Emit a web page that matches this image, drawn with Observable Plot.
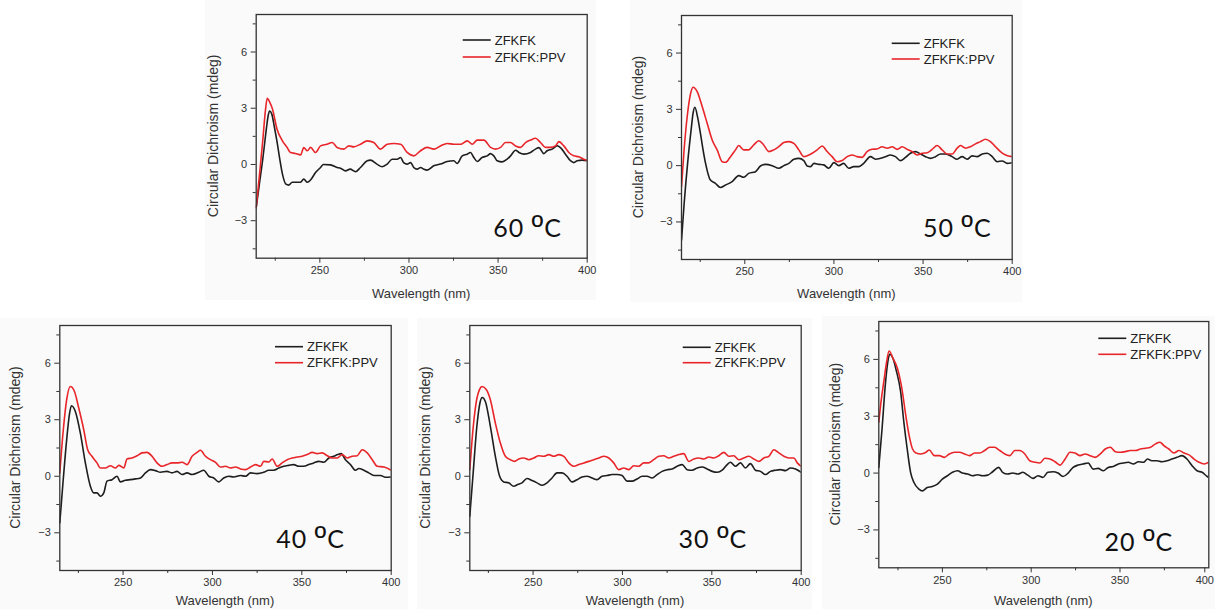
<!DOCTYPE html>
<html><head><meta charset="utf-8">
<script src="https://cdn.jsdelivr.net/npm/d3@7"></script>
<script src="https://cdn.jsdelivr.net/npm/@observablehq/plot@0.6"></script>
<style>
html,body{margin:0;padding:0;background:#fff;}
#wrap{position:relative;width:1215px;height:609px;overflow:hidden;}
.panel{position:absolute;}
</style></head><body><div id="wrap"></div>
<script>
// ---------- data ----------
const seriesNames = ["ZFKFK", "ZFKFK:PPV"];
const temps = ["60 ºC", "50 ºC", "40 ºC", "30 ºC", "20 ºC"];
const xLabel = "Wavelength (nm)";
const yLabel = "Circular Dichroism (mdeg)";
const xTicks = [250, 300, 350, 400];
const xMinor = [225, 275, 325, 375];
const yTicks = [-3, 0, 3, 6];
const yMinor = [-4.5, -1.5, 1.5, 4.5, 7.5];

const zfkfk60 = [[214.3,-2.3],[216,-1.1],[218,0.3],[220,1.9],[221,2.6],[221.8,2.85],[223,2.7],[224.5,2.0],[226,1.2],[227.5,0.3],[229,-0.5],[231,-1.05],[232.5,-1.1],[234.5,-0.95],[237,-0.95],[239,-0.95],[241,-0.78],[243,-0.95],[245,-0.8],[247.6,-0.43],[250.4,-0.16],[252,0],[256,-0.02],[259.7,-0.16],[261.6,-0.2],[264.4,-0.34],[267,-0.25],[270,-0.39],[272.8,-0.16],[276.6,0.2],[278.4,0.23],[282,0.02],[285,-0.12],[287.8,0.02],[290.6,0.28],[293.4,0.28],[295.3,0.37],[297,0.1],[299,0.02],[300.9,0.1],[302.7,-0.16],[304.6,-0.25],[306.5,-0.16],[308.3,-0.25],[310.2,-0.3],[313.9,-0.07],[317.7,0.02],[321.4,0.16],[325.2,0.2],[327,0.05],[329.9,0.46],[332.7,0.55],[334.5,0.64],[336.4,0.37],[338.3,0.16],[341,0.37],[343.9,0.46],[345.8,0.58],[347.6,0.46],[349.5,0.2],[352.3,0.14],[355.1,0.28],[357,0.46],[359.8,0.76],[361.7,0.64],[364.5,0.55],[368.2,0.64],[371,0.82],[372.9,0.9],[375.7,0.58],[377.5,0.73],[380.3,0.82],[383.2,1.0],[385,0.9],[387.8,0.55],[390.6,0.2],[392.5,0.1],[394.4,0.2],[397.2,0.23],[400,0.2]];
const ppv60 = [[214.3,-2.3],[216,-0.7],[218,1.3],[219.5,2.9],[220.5,3.53],[222,3.3],[223.3,3.0],[226,1.88],[229,1.26],[231.7,0.9],[233.5,0.64],[236.3,0.59],[239.2,0.51],[241,0.9],[243,0.73],[244.8,0.91],[247.6,0.64],[250.4,0.99],[254,1.08],[256.9,1.17],[259.7,0.91],[263.5,0.82],[266.3,0.99],[269,0.94],[272.8,1.08],[276.6,1.26],[280.3,1.17],[284,0.82],[287.8,1.08],[291.5,1.12],[295.3,1.08],[299,0.64],[302.7,0.46],[306.5,0.73],[310.2,0.91],[314,0.82],[317.7,0.99],[321.4,1.12],[325.2,1.08],[328.9,1.08],[332.7,1.26],[335.5,1.08],[338.3,1.3],[342,1.3],[345.8,0.91],[348.6,0.82],[351.4,0.91],[354.2,1.17],[357,1.17],[359.8,0.99],[362.6,0.91],[365.4,1.17],[368.2,1.3],[371,1.4],[373.8,1.17],[376.6,0.91],[379.4,0.91],[382.2,0.99],[384.1,1.22],[386.9,0.99],[389.7,0.64],[392.5,0.46],[395.3,0.41],[398.1,0.28],[400,0.23]];

const zfkfk50 = [[214.5,-3.97],[216,-2.0],[218,0.2],[220,2.0],[221,2.8],[222,3.11],[223.5,2.6],[225.1,1.73],[226.5,0.9],[228,0.12],[230.7,-0.77],[233.5,-0.94],[236.3,-1.16],[239.2,-1.03],[242.9,-0.85],[246.6,-0.53],[249.4,-0.62],[252.2,-0.41],[256,-0.32],[258.8,-0.02],[261.6,0.07],[265.4,0],[269.1,-0.14],[271.9,0],[274.7,0.12],[277.5,0.34],[280.3,0.39],[283.1,0.27],[285,-0.02],[286.9,-0.05],[288.8,0.12],[291.6,0.07],[294.3,0.04],[297.1,-0.14],[300,0.16],[302.7,0],[305.5,0.12],[308.3,-0.14],[311.1,-0.05],[314,-0.05],[316.7,0.12],[320.5,0.48],[323.3,0.34],[326.1,0.39],[328.9,0.48],[331.7,0.57],[334.5,0.48],[337.3,0.27],[340.1,0.44],[342.9,0.66],[345.8,0.75],[348.6,0.62],[351.4,0.48],[354.2,0.39],[357,0.48],[359.8,0.62],[362.6,0.62],[366.3,0.48],[369.1,0.34],[371.9,0.48],[374.7,0.34],[377.5,0.52],[380.3,0.48],[383.2,0.62],[386,0.66],[388.8,0.48],[391.6,0.21],[394.4,0.25],[397.2,0.12],[400,0.16]];
const ppv50 = [[214.5,-1.12],[216,0.9],[217.7,2.62],[219.5,3.8],[221,4.18],[223.3,3.95],[226.1,3.15],[228.9,2.26],[231.7,1.37],[234.5,0.84],[237.3,0.21],[239.2,0.18],[242,0.48],[244.8,0.84],[246.6,1.07],[249.4,0.84],[252.2,0.84],[255,1.1],[257.9,1.33],[260.6,1.1],[263.5,0.75],[266.3,0.84],[269.1,1.01],[271.9,1.23],[274.7,1.28],[277.5,1.19],[280.3,0.84],[283.1,0.48],[285,0.53],[287.8,0.66],[290.6,0.84],[293.4,1.05],[296.2,0.75],[299,0.48],[301.8,0.21],[304.6,0.27],[307.4,0.48],[310.2,0.57],[313,0.48],[315.8,0.44],[318.6,0.75],[321.4,0.87],[324.2,0.89],[327,1.01],[329.9,0.93],[332.7,1.01],[335.5,0.87],[338.3,1.01],[341,0.87],[343.9,0.75],[346.7,0.57],[349.5,0.66],[352.3,0.69],[355.1,0.87],[357.9,1.07],[360.7,0.84],[363.5,0.62],[366.3,0.62],[369.1,0.93],[371,1.07],[373.8,0.93],[376.6,1.01],[379.4,1.16],[382.2,1.28],[385,1.41],[387.8,1.28],[390.6,1.01],[393.4,0.75],[396.3,0.57],[400,0.48]];

const zfkfk40 = [[214.6,-2.47],[216.5,-0.2],[218.5,2.0],[220,3.3],[221.1,3.74],[223.3,3.44],[226.1,2.29],[228.9,0.71],[231.7,-0.53],[233.6,-0.88],[235.4,-0.88],[237.3,-1.06],[239.2,-0.88],[241,-0.26],[243.8,-0.18],[246.6,0],[248.5,-0.3],[251.3,-0.21],[254.1,-0.18],[256.9,-0.14],[259.7,-0.09],[262.5,0.18],[265.3,0.35],[268.1,0.3],[270.9,0.21],[274.6,0.26],[277.4,0.18],[280.2,0.26],[283,0.09],[285.8,0.18],[288.6,0.09],[292.4,0.21],[295.1,0.32],[298,0],[300.7,-0.09],[303.5,-0.3],[306.3,-0.09],[309.1,0],[311.9,-0.04],[315.7,0.04],[318.5,0],[321.3,0.18],[325,0.14],[328.7,0.21],[331.5,0.32],[334.3,0.32],[337.1,0.44],[339.9,0.53],[342.7,0.58],[345.5,0.62],[348.3,0.53],[351.1,0.53],[353.9,0.62],[356.7,0.71],[359.5,0.79],[362.3,0.74],[365.1,0.97],[367.9,1.06],[370.1,1.15],[372,1.2],[374.4,0.88],[377.2,0.62],[380,0.32],[381.9,0.41],[384.7,0.32],[387.5,0.18],[390.3,0.04],[394,0.04],[396.8,-0.05],[400,-0.04]];
const ppv40 = [[214.6,0.18],[216.5,2.4],[218.5,4.1],[220.5,4.76],[222.8,4.5],[225.2,3.62],[228,2.47],[230.2,1.41],[232.6,1.06],[235.4,0.71],[237.3,0.44],[240.1,0.44],[242.9,0.56],[245.7,0.44],[247.6,0.58],[250.4,0.44],[252.2,0.92],[255,0.97],[257.8,1.09],[260.6,1.24],[263.4,1.27],[266.2,1.06],[269,0.71],[271.8,0.53],[274.6,0.62],[277.4,0.71],[280.2,0.71],[283,0.74],[285.8,0.62],[288.6,1.06],[291.4,1.27],[293.3,1.38],[296.1,1.06],[298.9,0.88],[301.7,0.74],[304.5,0.49],[307.3,0.53],[310.1,0.44],[312.9,0.49],[315.7,0.39],[318.5,0.35],[321.3,0.49],[324.1,0.62],[326.9,0.53],[328.7,0.79],[331.5,0.76],[333.4,0.92],[336.2,0.53],[339,0.71],[341.8,0.88],[344.6,0.97],[347.4,1.02],[350.2,1.06],[353,1.15],[355.8,1.27],[358.6,1.2],[361.4,1.24],[364.2,1.09],[367,0.97],[369.8,0.97],[372.6,1.15],[375.4,0.97],[378.2,1.06],[381,1.09],[383.8,1.41],[386.6,1.24],[389.4,0.88],[392.2,0.53],[396,0.49],[400,0.32]];

const zfkfk30 = [[214.6,-2.12],[216.5,0.2],[218.5,2.6],[220.3,3.9],[221.5,4.18],[223.3,3.97],[226.1,2.65],[228.9,1.06],[231.3,0],[233.6,-0.3],[236.3,-0.35],[239.2,-0.53],[241.4,-0.44],[243.8,-0.35],[246.6,-0.12],[249.4,-0.23],[252.2,-0.35],[255,-0.48],[257.8,-0.35],[260.6,-0.09],[263.4,0.18],[266.2,0.18],[269,0],[271.8,-0.3],[274.6,-0.18],[277.4,-0.04],[280.2,0],[283,-0.09],[285.8,-0.18],[288.6,0],[291.4,0.04],[294.2,0.09],[297,0.09],[299.8,0.04],[302.6,-0.26],[305.4,-0.26],[308.2,-0.14],[311,0],[313.8,0],[316.6,-0.09],[319.4,0.09],[322.2,0.26],[325,0.35],[327.8,0.39],[330.6,0.53],[333.4,0.62],[336.2,0.35],[339,0.32],[341.8,0.44],[344.6,0.49],[347.4,0.39],[350.2,0.26],[353,0.21],[355.8,0.32],[358.6,0.62],[360.4,0.74],[363.2,0.53],[366,0.71],[368.8,0.44],[371.6,0.67],[374.4,0.32],[377.2,0.26],[380,0.09],[382.8,0.26],[385.6,0.32],[388.4,0.35],[391.2,0.3],[394,0.44],[396.8,0.39],[400,0.21]];
const ppv30 = [[214.6,0.35],[216.5,2.6],[218.5,4.1],[220,4.6],[221.5,4.76],[223.9,4.59],[226.1,4.06],[228.9,2.82],[231.7,1.76],[234.5,1.06],[237.3,0.88],[239.6,0.79],[242,0.92],[244.8,0.97],[247.6,0.88],[250.4,0.97],[253.2,1.09],[256,1.06],[258.8,1.15],[261.6,1.06],[264.4,1.15],[267.2,1.06],[270,0.71],[272.8,0.53],[275.6,0.62],[278.4,0.71],[281.2,0.79],[284,0.88],[286.8,0.97],[289.6,1.06],[292.4,0.97],[295.1,0.71],[298,0.35],[300.7,0.44],[303.5,0.35],[306.3,0.56],[309.1,0.53],[311.9,0.71],[314.7,0.71],[317.5,0.88],[320.3,1.06],[323.1,1.09],[325.9,0.97],[328.7,1.06],[331.5,1.15],[334.3,1.2],[337.1,0.79],[339.9,0.92],[342.7,0.97],[345.5,0.92],[348.3,1.02],[351.1,0.97],[353.9,1.09],[356.7,1.27],[359.5,1.06],[362.3,1.09],[365.1,0.88],[367.9,0.97],[370.7,1.06],[373.5,0.92],[376.3,0.79],[379.1,0.97],[381.9,1.06],[384.7,1.41],[387.5,1.24],[390.3,1.06],[393.1,0.97],[395.9,0.97],[397.8,0.71],[400,0.53]];

const zfkfk20 = [[214.2,0.3],[216,2.3],[218,4.8],[219.5,6.0],[220.3,6.27],[222.2,6.05],[224,5.43],[226.5,4.28],[228.3,2.69],[230.2,1.27],[232.1,0.04],[234,-0.5],[236.8,-0.85],[238.7,-0.94],[241.5,-0.76],[244.3,-0.71],[247.2,-0.58],[250,-0.32],[252.8,-0.14],[255.7,0.04],[258.5,0.12],[261.3,0],[264.2,-0.05],[267,-0.14],[269.8,-0.09],[272.6,-0.14],[275.5,-0.11],[278.3,0.07],[281.7,0.3],[283.9,0.04],[286.8,-0.05],[289.6,0],[292.5,-0.05],[295.3,0.04],[298.1,-0.11],[301,-0.28],[303.8,-0.14],[306.6,-0.23],[309.4,0.04],[312.3,0.07],[315.1,0],[317.9,-0.18],[320.8,0],[323.6,0.3],[326.4,0.42],[329.2,0.48],[332.1,0.53],[334.9,0.21],[337.7,0.25],[340.6,0.12],[343.4,0.3],[346.2,0.35],[349.1,0.48],[351.9,0.53],[354.7,0.57],[357.5,0.48],[360.4,0.6],[363.2,0.57],[365.5,0.74],[367.9,0.65],[370.8,0.65],[373.6,0.6],[376.4,0.65],[379.2,0.74],[382.1,0.83],[384.9,0.92],[387.7,0.74],[390.6,0.39],[393.4,0.12],[396.2,0.04],[399.1,-0.18],[400,-0.23]];
const ppv20 = [[214.2,2.69],[215.5,3.8],[217,4.81],[218.5,5.8],[220,6.44],[222.2,6.05],[224.7,5.52],[227.2,4.46],[229.4,3.04],[231.3,1.98],[233.2,1.27],[235.1,1.06],[237.9,1.01],[240.8,1.1],[242.6,1.22],[245.5,0.92],[248.3,0.92],[251.1,0.83],[253.9,1.01],[256.8,1.1],[259.6,1.1],[262.5,1.01],[265.3,0.92],[268.1,1.06],[270.9,1.06],[273.8,1.19],[276.6,1.36],[279.4,1.36],[282.3,1.19],[285.1,1.01],[287.9,0.92],[290.8,1.19],[293.6,1.19],[296.4,1.01],[299.2,0.65],[302.1,0.57],[304.9,0.53],[307.7,0.78],[310.6,0.74],[313.4,0.6],[316.2,0.42],[319.1,0.74],[321.9,1.1],[324.7,1.06],[327.5,0.92],[330.4,1.01],[333.2,0.92],[336,0.83],[338.9,1.01],[341.7,1.27],[344.5,1.36],[347.4,1.13],[350.2,1.1],[353,1.13],[355.8,1.19],[358.7,1.19],[361.5,1.27],[364.3,1.31],[367.2,1.36],[370,1.54],[372.5,1.63],[374.7,1.45],[377.5,1.27],[380.4,1.06],[383.2,1.19],[386,1.06],[388.9,0.96],[391.7,0.74],[394.5,0.57],[397.4,0.48],[400,0.57]];

// ---------- layout (positions & styles, not data) ----------
const colors = ["#1e1e1e", "#e8262a"];
const panels = [
  {temp: temps[0], series: [zfkfk60, ppv60], box: [205, 0, 391, 300], frame: [255.7, 14, 586.7, 257.7], xmin: 214.3, yLab: 42.7, xLab: 35.3, tag: [24.7, 20.4], leg: [207, 26, 43], lastDx: 0},
  {temp: temps[1], series: [zfkfk50, ppv50], box: [630, 0, 392, 302], frame: [681, 15, 1011.7, 259], xmin: 214.5, yLab: 42.7, xLab: 34.3, tag: [20, 21.7], leg: [210.7, 28.3, 44], lastDx: 0},
  {temp: temps[2], series: [zfkfk40, ppv40], box: [0, 318, 408, 291], frame: [59.3, 325, 390.7, 570], xmin: 214.6, yLab: 44.3, xLab: 30, tag: [45.7, 21.7], leg: [215.7, 21.7, 37.7], lastDx: 0},
  {temp: temps[3], series: [zfkfk30, ppv30], box: [417, 318, 395, 291], frame: [469.3, 325, 800.7, 570], xmin: 214.6, yLab: 44.3, xLab: 30, tag: [53.4, 21.7], leg: [213.4, 22.3, 37.7], lastDx: 0},
  {temp: temps[4], series: [zfkfk20, ppv20], box: [822, 316, 393, 293], frame: [878.3, 321, 1208.3, 567.3], xmin: 214.2, yLab: 43.3, xLab: 32.7, tag: [35, 16.6], leg: [220, 17.3, 33.3], lastDx: -4}
];

const wrap = document.getElementById("wrap");
const txtFont = "'Liberation Sans', Arial, Helvetica, sans-serif";

panels.forEach(p => {
  const [bx, by, bw, bh] = p.box;
  const [fl, ft, fr, fb] = p.frame;
  const mL = fl - bx, mT = ft - by, mR = bx + bw - fr, mB = by + bh - fb;
  const L = mL, T = mT, R = bw - mR, B = bh - mB;

  const overlay = () => {
    const g = d3.create("svg:g");
    g.append("text")
      .attr("transform", `translate(${L - p.yLab},${(T + B) / 2}) rotate(-90)`)
      .attr("text-anchor", "middle").attr("dy", "0.35em")
      .attr("font-family", txtFont).attr("font-size", 14).attr("fill", "#333")
      .text(yLabel);
    g.append("text")
      .attr("x", (L + R) / 2).attr("y", B + p.xLab)
      .attr("text-anchor", "middle").attr("dy", "0.35em")
      .attr("font-family", txtFont).attr("font-size", 13).attr("fill", "#333")
      .text(xLabel);
    seriesNames.forEach((name, i) => {
      const y = T + (i ? p.leg[2] : p.leg[1]);
      g.append("line")
        .attr("x1", L + p.leg[0]).attr("x2", L + p.leg[0] + 28)
        .attr("y1", y).attr("y2", y)
        .attr("stroke", colors[i]).attr("stroke-width", 1.6);
      g.append("text")
        .attr("x", L + p.leg[0] + 32).attr("y", y).attr("dy", "0.36em")
        .attr("text-anchor", "start")
        .attr("font-family", txtFont).attr("font-size", 13).attr("fill", "#222")
        .text(name);
    });
    const tag = g.append("text")
      .attr("x", R - p.tag[0]).attr("y", B - p.tag[1])
      .attr("text-anchor", "end")
      .attr("font-family", "Lato, 'Open Sans', sans-serif").attr("font-size", 25)
      .attr("letter-spacing", "1px")
      .attr("fill", "#111");
    const parts = p.temp.split("º");
    tag.append("tspan").text(parts[0]);
    tag.append("tspan").attr("font-family", txtFont).attr("font-size", 32).text("º");
    tag.append("tspan").text(parts[1]);
    return g.node();
  };

  const chart = Plot.plot({
    width: bw, height: bh,
    marginLeft: mL, marginTop: mT, marginRight: mR, marginBottom: mB,
    style: {background: "#fafafa", fontFamily: txtFont, color: "#333", overflow: "visible"},
    x: {domain: [p.xmin, 400]},
    y: {domain: [-5, 8]},
    marks: [
      Plot.axisX({ticks: xTicks.slice(0, -1), tickSize: 5, tickPadding: 3, fontSize: 11, label: null}),
      Plot.axisX({ticks: xTicks.slice(-1), tickSize: 5, tickPadding: 3, fontSize: 11, label: null, dx: p.lastDx}),
      Plot.axisX({ticks: xMinor, tickSize: 3, tickFormat: () => "", label: null}),
      Plot.axisY({ticks: yTicks, tickSize: 5, tickPadding: 4, fontSize: 11, label: null}),
      Plot.axisY({ticks: yMinor, tickSize: 3, tickFormat: () => "", label: null}),
      ...p.series.map((s, i) => Plot.line(s, {x: d => d[0], y: d => d[1], stroke: colors[i], strokeWidth: 1.6, curve: "monotone-x", clip: true})),
      Plot.frame({stroke: "#333", strokeWidth: 1.3}),
      overlay
    ]
  });
  chart.classList.add("panel");
  chart.style.left = bx + "px";
  chart.style.top = by + "px";
  wrap.appendChild(chart);
});
</script></body></html>
